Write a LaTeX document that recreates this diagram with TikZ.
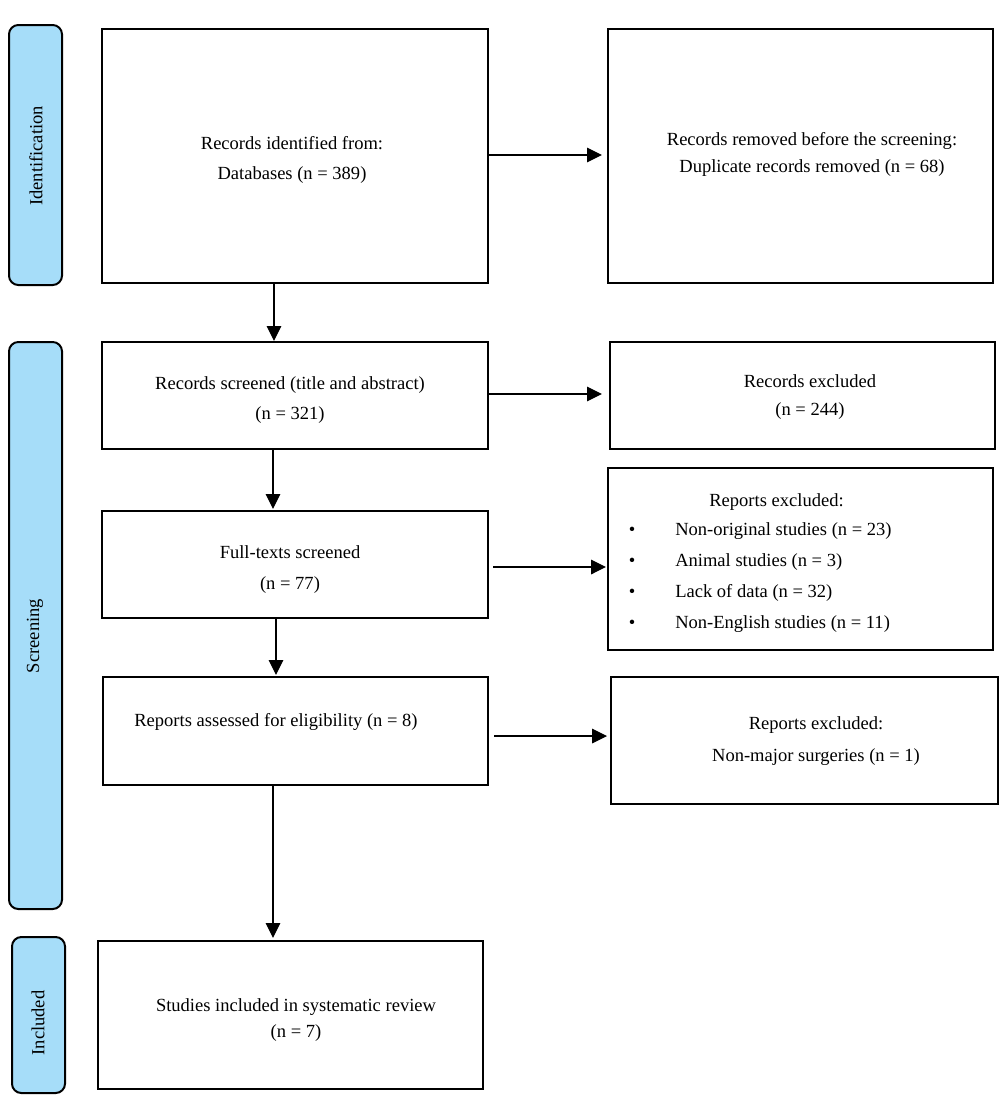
\documentclass[tikz,border=0pt]{standalone}
\usepackage{fontspec}
\setmainfont{Liberation Serif}
\usetikzlibrary{arrows.meta}
\definecolor{sidefill}{RGB}{166,221,249}
\begin{document}
\begin{tikzpicture}[x=0.75pt,y=-0.75pt,
  mainbox/.style={draw=black,line width=1.5pt,rectangle,inner sep=0pt},
  sidebox/.style={draw=black,line width=1.5pt,rectangle,rounded corners=7pt,fill=sidefill,inner sep=0pt,minimum width=39.75pt},
  txt/.style={align=center,inner sep=0pt,font=\fontsize{13.9}{21.75}\selectfont},
  ltxt/.style={anchor=west,inner sep=0pt,font=\fontsize{13.9}{21.75}\selectfont},
  sidetxt/.style={rotate=90,inner sep=0pt,font=\fontsize{13.9}{16}\selectfont},
  arr/.style={draw=black,line width=0.9pt,-{Triangle[length=11.25pt,width=11pt]}}]
\useasboundingbox[fill=white] (0,0) rectangle (1000,1117);

% side boxes
\node[sidebox,minimum height=195pt] (sid) at (35.5,155) {};
\node[sidebox,minimum height=425.25pt] (sscr) at (35.5,625.5) {};
\node[sidebox,minimum height=117pt] (sinc) at (38.5,1015) {};
\node[sidetxt] (lid) at (36,156) {Identification};
\node[sidetxt] (lscr) at (35,636) {Screening};
\node[sidetxt] (linc) at (38,1023) {Included};

% main boxes
\node[mainbox,minimum width=289.5pt,minimum height=190.5pt] (b1) at (295,156) {};
\node[mainbox,minimum width=288.75pt,minimum height=190.5pt] (r1) at (800.5,156) {};
\node[mainbox,minimum width=289.5pt,minimum height=80.25pt] (b2) at (295,395.5) {};
\node[mainbox,minimum width=288.75pt,minimum height=80.25pt] (r2) at (802.5,395.5) {};
\node[mainbox,minimum width=289.5pt,minimum height=80.25pt] (b3) at (295,564.5) {};
\node[mainbox,minimum width=288.75pt,minimum height=136.5pt] (r3) at (800.5,559) {};
\node[mainbox,minimum width=288.75pt,minimum height=81pt] (b4) at (295.5,731) {};
\node[mainbox,minimum width=290.25pt,minimum height=95.25pt] (r4) at (804.5,740.5) {};
\node[mainbox,minimum width=288.75pt,minimum height=111pt] (b5) at (290.5,1015) {};

% texts
\node[txt,font=\fontsize{13.9}{22.5}\selectfont] (t1) at (292,160) {Records identified from:\\Databases (n = 389)};
\node[txt,font=\fontsize{13.9}{20.25}\selectfont] (t1r) at (812,154) {Records removed before the screening:\\Duplicate records removed (n = 68)};
\node[txt,font=\fontsize{13.9}{22.5}\selectfont] (t2) at (290,400) {Records screened (title and abstract)\\(n = 321)};
\node[txt,font=\fontsize{13.9}{21}\selectfont] (t2r) at (810,397) {Records excluded\\(n = 244)};
\node[txt,font=\fontsize{13.9}{23.25}\selectfont] (t3) at (290,570) {Full-texts screened\\(n = 77)};
\node[txt] (t4) at (276,722) {Reports assessed for eligibility (n = 8)};
\node[txt,font=\fontsize{13.9}{24}\selectfont] (t4r) at (816,741) {Reports excluded:\\Non-major surgeries (n = 1)};
\node[txt,font=\fontsize{13.9}{19.5}\selectfont] (t5) at (296,1020) {Studies included in systematic review\\(n = 7)};

\node[txt] (t3h) at (776.5,502) {Reports excluded:};
\node[txt] (bu1) at (632,531) {\textbullet};
\node[txt] (bu2) at (632,562) {\textbullet};
\node[txt] (bu3) at (632,593) {\textbullet};
\node[txt] (bu4) at (632,624) {\textbullet};
\node[ltxt] (it1) at (675,531) {Non-original studies (n = 23)};
\node[ltxt] (it2) at (675,562) {Animal studies (n = 3)};
\node[ltxt] (it3) at (675,593) {Lack of data (n = 32)};
\node[ltxt] (it4) at (675,624) {Non-English studies (n = 11)};

% horizontal connectors
\draw[arr] ([shift={(0,-1)}]b1.east) -- ([shift={(-5,-1)}]r1.west);
\draw[arr] ([shift={(0,-1.5)}]b2.east) -- ([shift={(-7,-1.5)}]r2.west);
\draw[arr] ([shift={(4,2.5)}]b3.east) -- ([shift={(-1,8)}]r3.west);
\draw[arr] ([shift={(5,5)}]b4.east) -- ([shift={(-3,-4.5)}]r4.west);

% vertical connectors
\draw[arr] ([shift={(-21,0)}]b1.south) -- ([shift={(-21,0)}]b2.north);
\draw[arr] ([shift={(-22,0)}]b2.south) -- ([shift={(-22,-1)}]b3.north);
\draw[arr] ([shift={(-19,0)}]b3.south) -- ([shift={(-19.5,-1)}]b4.north);
\draw[arr] ([shift={(-22.5,0)}]b4.south) -- ([shift={(-17.5,-2)}]b5.north);
\end{tikzpicture}
\end{document}
